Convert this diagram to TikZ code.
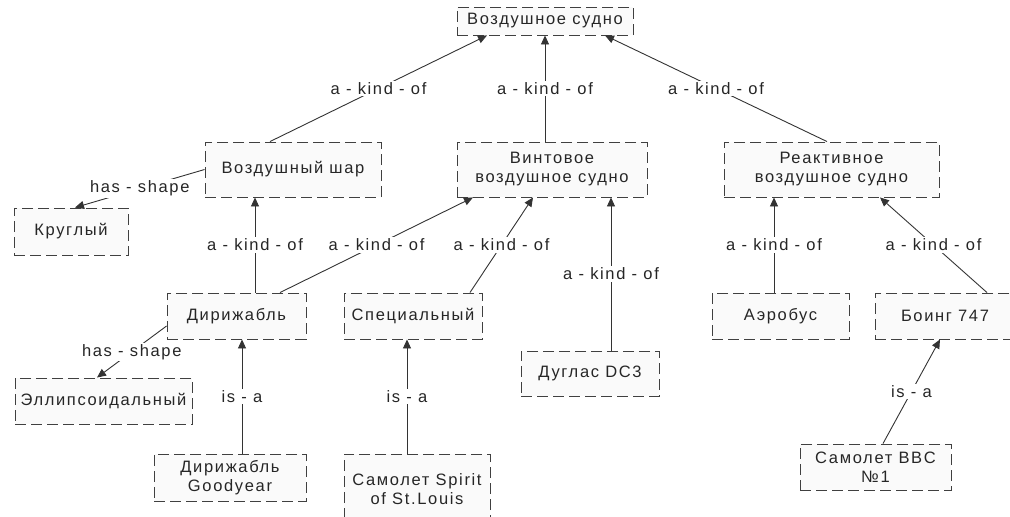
\documentclass[tikz,border=0pt]{standalone}
\usepackage{fontspec}
\setmainfont{Liberation Sans}[LetterSpace=10]
\usetikzlibrary{arrows.meta}
\tikzset{
  framebox/.style={draw=black!75,dash pattern=on 11pt off 5pt,line width=0.9pt,fill=black!2,text=black!85,align=center,inner sep=2pt},
  kindarrow/.style={draw=black!80,line width=0.9pt,-{Triangle[length=9pt,width=8pt]}},
  linklabel/.style={fill=white,inner sep=1.5pt,text=black!85,midway}
}

\begin{document}
\begin{tikzpicture}[x=1pt,y=-1pt,font=\fontsize{16.5}{19}\selectfont]
  \useasboundingbox (0,0) rectangle (1010,517);
  % top level
  \node[framebox,minimum width=176pt,minimum height=28pt] (sudno) at (545,21) {Воздушное судно};
  % second level
  \node[framebox,minimum width=176pt,minimum height=55pt] (shar) at (293,169.5) {Воздушный шар};
  \node[framebox,minimum width=190pt,minimum height=55pt] (vint) at (552,169.5) {Винтовое\\воздушное судно};
  \node[framebox,minimum width=215pt,minimum height=55pt] (reakt) at (831.5,169.5) {Реактивное\\воздушное судно};
  \node[framebox,minimum width=114pt,minimum height=47pt] (krug) at (71,231.5) {Круглый};
  % third level
  \node[framebox,minimum width=139pt,minimum height=46pt] (dirizh) at (236.5,316) {Дирижабль};
  \node[framebox,minimum width=138pt,minimum height=46pt] (spec) at (413,316) {Специальный};
  \node[framebox,minimum width=138pt,minimum height=45pt] (duglas) at (590,373.5) {Дуглас DC3};
  \node[framebox,minimum width=137pt,minimum height=46pt] (aerobus) at (780.5,316) {Аэробус};
  \node[framebox,minimum width=140pt,minimum height=46pt] (boing) at (945,316) {Боинг 747};
  \node[framebox,minimum width=177pt,minimum height=46pt] (ellips) at (103.5,401) {Эллипсоидальный};
  % bottom level
  \node[framebox,minimum width=152pt,minimum height=47pt] (goodyear) at (230,477.5) {Дирижабль\\Goodyear};
  \node[framebox,minimum width=146pt,minimum height=70pt] (spirit) at (417,489) {Самолет Spirit\\of St.Louis};
  \node[framebox,minimum width=151pt,minimum height=46pt] (bbc) at (875.5,467) {Самолет BBC\\№1};

  % a - kind - of
  \draw[kindarrow] ([xshift=-23pt]shar.north) -- node[linklabel] {a - kind - of} ([xshift=-58pt]sudno.south);
  \draw[kindarrow] (vint.north -| sudno.south) -- node[linklabel] {a - kind - of} (sudno.south);
  \draw[kindarrow] ([xshift=-4.5pt]reakt.north) -- node[linklabel] {a - kind - of} ([xshift=60pt]sudno.south);
  \draw[kindarrow] ([xshift=18.5pt]dirizh.north) -- node[linklabel] {a - kind - of} ([xshift=-38pt]shar.south);
  \draw[kindarrow] ([xshift=43.5pt]dirizh.north) -- node[linklabel] {a - kind - of} ([xshift=-79pt]vint.south);
  \draw[kindarrow] ([xshift=57pt]spec.north) -- node[linklabel] {a - kind - of} ([xshift=-19pt]vint.south);
  \draw[kindarrow] ([xshift=21pt]duglas.north) -- node[linklabel] {a - kind - of} ([xshift=59pt]vint.south);
  \draw[kindarrow] ([xshift=-6.5pt]aerobus.north) -- node[linklabel] {a - kind - of} ([xshift=-57.5pt]reakt.south);
  \draw[kindarrow] ([xshift=42pt]boing.north) -- node[linklabel] {a - kind - of} ([xshift=48.5pt]reakt.south);
  % is - a
  \draw[kindarrow] ([xshift=12pt]goodyear.north) -- node[linklabel] {is - a} ([xshift=5.5pt]dirizh.south);
  \draw[kindarrow] ([xshift=-10pt]spirit.north) -- node[linklabel] {is - a} ([xshift=-6pt]spec.south);
  \draw[kindarrow] ([xshift=7.5pt]bbc.north) -- node[linklabel] {is - a} ([xshift=-5pt]boing.south);
  % has - shape
  \draw[kindarrow] (shar.west) -- node[linklabel] {has - shape} ([xshift=4pt]krug.north);
  \draw[kindarrow] ([yshift=-10pt]dirizh.west) -- node[linklabel] {has - shape} ([xshift=-6.5pt]ellips.north);
\end{tikzpicture}
\end{document}
